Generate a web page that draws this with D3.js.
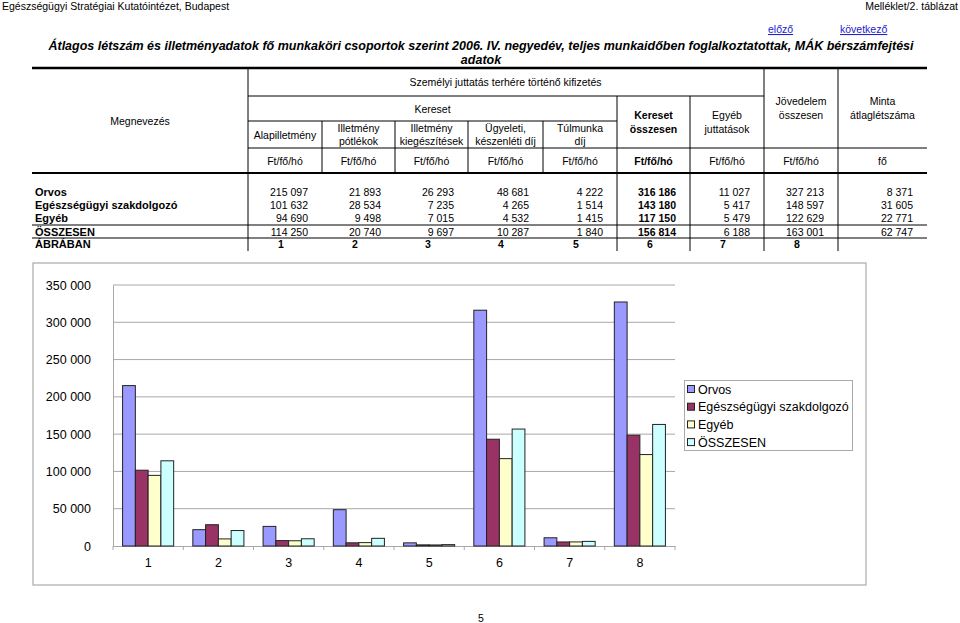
<!DOCTYPE html>
<html><head><meta charset="utf-8">
<script src="https://cdn.jsdelivr.net/npm/d3@7"></script>
<style>
body{margin:0;background:#fff;}
svg text{font-family:Arial,"Liberation Sans",sans-serif;}
</style></head>
<body><svg id="c" width="960" height="623"></svg>
<script>
// ---- data ----
const categories = ["1","2","3","4","5","6","7","8"];
const seriesNames = ["Orvos","Egészségügyi szakdolgozó","Egyéb","ÖSSZESEN"];
const orvos       = [215097, 21893, 26293, 48681, 4222, 316186, 11027, 327213];
const szakdolgozo = [101632, 28534,  7235,  4265, 1514, 143180,  5417, 148597];
const egyeb       = [ 94690,  9498,  7015,  4532, 1415, 117150,  5479, 122629];
const osszesen    = [114250, 20740,  9697, 10287, 1840, 156814,  6188, 163001];
const letszam     = [8371, 31605, 22771, 62747];
const yTicks = [0, 50000, 100000, 150000, 200000, 250000, 300000, 350000];
const colHeaders = ["Alapilletmény","Illetmény|pótlékok","Illetmény|kiegészítések","Ügyeleti,|készenléti díj","Túlmunka|díj","Kereset|összesen","Egyéb|juttatások","Jövedelem|összesen","Minta|átlaglétszáma"];
const units = ["Ft/fő/hó","Ft/fő/hó","Ft/fő/hó","Ft/fő/hó","Ft/fő/hó","Ft/fő/hó","Ft/fő/hó","Ft/fő/hó","fő"];
const colors = ["#9999FF","#993366","#FFFFCC","#CCFFFF"];

const seriesData = [orvos, szakdolgozo, egyeb, osszesen];
const loc = d3.formatLocale({decimal:",", thousands:"\u00a0", grouping:[3], currency:["",""]});
const fmt = loc.format(",d");

const svg = d3.select("#c");
svg.append("rect").attr("width",960).attr("height",623).attr("fill","#fff");

// ---- page header ----
svg.append("text").attr("x",2).attr("y",10).attr("font-size",10.5).text("Egészségügyi Stratégiai Kutatóintézet, Budapest");
svg.append("text").attr("x",958).attr("y",10).attr("text-anchor","end").attr("font-size",10.5).text("Melléklet/2. táblázat");
svg.append("text").attr("x",768).attr("y",33).attr("font-size",10.5).attr("fill","#2222cc").attr("text-decoration","underline").text("előző");
svg.append("text").attr("x",840).attr("y",33).attr("font-size",10.5).attr("fill","#2222cc").attr("text-decoration","underline").text("következő");
svg.append("text").attr("x",481).attr("y",50).attr("text-anchor","middle").attr("font-size",12.5).attr("font-weight","bold").attr("font-style","italic")
  .text("Átlagos létszám és illetményadatok fő munkaköri csoportok szerint 2006. IV. negyedév, teljes munkaidőben foglalkoztatottak, MÁK bérszámfejtési");
svg.append("text").attr("x",481).attr("y",64).attr("text-anchor","middle").attr("font-size",12.5).attr("font-weight","bold").attr("font-style","italic").text("adatok");

// ---- table ----
const T = svg.append("g");
const colX = [248,322,395,468,543,617,690,764,838,927];
function hl(x1,x2,y,w){T.append("line").attr("x1",x1).attr("x2",x2).attr("y1",y).attr("y2",y).attr("stroke","#000").attr("stroke-width",w||1);}
function vl(x,y1,y2){T.append("line").attr("x1",x).attr("x2",x).attr("y1",y1).attr("y2",y2).attr("stroke","#000").attr("stroke-width",1);}
hl(32,927,68,2.5);
hl(248,764,96);
hl(248,617,121);
hl(248,927,148);
hl(32,927,173,2);
hl(32,927,225);
hl(32,927,238);
vl(248,68,251);
[322,395,468,543].forEach(x=>vl(x,121,173));
vl(617,96,251); vl(690,96,251); vl(764,68,251); vl(838,68,251);

function ctext(x,y,str,opts){
  const lines = str.split("|");
  const lh = 13.5;
  const t = T.append("text").attr("x",x).attr("text-anchor","middle").attr("font-size",10.5);
  if(opts&&opts.bold) t.attr("font-weight","bold");
  lines.forEach((l,i)=>{
    t.append("tspan").attr("x",x).attr("y", y + 4 + (i-(lines.length-1)/2)*lh).text(l);
  });
}
ctext(140,120.5,"Megnevezés");
ctext(505.5,82,"Személyi juttatás terhére történő kifizetés");
ctext(432.5,108.5,"Kereset");
for(let i=0;i<5;i++) ctext((colX[i]+colX[i+1])/2,134.5,colHeaders[i]);
ctext((colX[5]+colX[6])/2,122,colHeaders[5],{bold:true});
ctext((colX[6]+colX[7])/2,122,colHeaders[6]);
ctext((colX[7]+colX[8])/2,108,colHeaders[7]);
ctext((colX[8]+colX[9])/2,108,colHeaders[8]);
units.forEach((u,i)=>ctext((colX[i]+colX[i+1])/2,160.5,u,{bold:i===5}));

// data rows
const rowY = [192,205,218,231.5];
seriesNames.forEach((name,r)=>{
  T.append("text").attr("x",35).attr("y",rowY[r]+4).attr("font-size",11).attr("font-weight","bold").text(name);
  const vals = seriesData[r].concat([letszam[r]]);
  vals.forEach((v,c)=>{
    T.append("text").attr("x",colX[c+1]-14).attr("y",rowY[r]+4).attr("text-anchor","end")
      .attr("font-size",10.5).attr("font-weight", c===5?"bold":"normal").text(fmt(v));
  });
});
T.append("text").attr("x",35).attr("y",248).attr("font-size",11).attr("font-weight","bold").text("ÁBRÁBAN");
categories.forEach((c,i)=>{
  T.append("text").attr("x",colX[i]+30).attr("y",248).attr("font-size",10.5).attr("font-weight","bold").text(c);
});

// ---- chart ----
svg.append("rect").attr("x",33).attr("y",263).attr("width",833).attr("height",322).attr("fill","#fff").attr("stroke","#aaa").attr("stroke-width",1.2);
const plot = {l:113, r:675, t:285, b:546};
const y = d3.scaleLinear().domain([0,350000]).range([plot.b, plot.t]);
const x0 = d3.scaleBand().domain(categories).range([plot.l, plot.r]).paddingInner(1.5/5.5).paddingOuter(0.75/5.5);
const x1 = d3.scaleBand().domain(seriesNames).range([0, x0.bandwidth()]).padding(0);
const C = svg.append("g");

// gridlines
C.append("g").selectAll("line").data(yTicks.filter(d=>d>0)).join("line")
  .attr("x1",plot.l).attr("x2",plot.r).attr("y1",d=>y(d)).attr("y2",d=>y(d)).attr("stroke","#a8a8a8").attr("stroke-width",1);

// y axis
const yAx = C.append("g").attr("transform",`translate(${plot.l},0)`)
  .call(d3.axisLeft(y).tickValues(yTicks).tickFormat(d=>fmt(d)).tickSize(0).tickPadding(22));
yAx.select(".domain").attr("stroke","#a8a8a8");
yAx.selectAll("text").attr("font-size",12.5).attr("fill","#000").attr("font-family","Arial,'Liberation Sans',sans-serif");

// x axis
const step = x0.step();
const xAx = C.append("g").attr("transform",`translate(0,${plot.b})`)
  .call(d3.axisBottom(x0).tickSize(0).tickPadding(12));
xAx.select(".domain").attr("stroke","#a8a8a8");
xAx.selectAll("text").attr("font-size",12.5).attr("fill","#000").attr("font-family","Arial,'Liberation Sans',sans-serif");
C.append("g").selectAll("line").data(d3.range(categories.length+1)).join("line")
  .attr("x1",i=>plot.l+i*step).attr("x2",i=>plot.l+i*step).attr("y1",plot.b).attr("y2",plot.b+4).attr("stroke","#a8a8a8");

// bars
categories.forEach((cat,ci)=>{
  const g = C.append("g").attr("transform",`translate(${x0(cat)},0)`);
  seriesNames.forEach((s,si)=>{
    const v = seriesData[si][ci];
    g.append("rect").attr("x",x1(s)).attr("y",y(v)).attr("width",x1.bandwidth()).attr("height",plot.b-y(v))
      .attr("fill",colors[si]).attr("stroke","#222").attr("stroke-width",1);
  });
});

// legend
const L = svg.append("g");
L.append("rect").attr("x",684.5).attr("y",380.5).attr("width",168).attr("height",70).attr("fill","#fff").attr("stroke","#aaa");
seriesNames.forEach((s,i)=>{
  const yy = 389 + i*17.7;
  L.append("rect").attr("x",687.5).attr("y",yy-3.5).attr("width",7).attr("height",7).attr("fill",colors[i]).attr("stroke","#222");
  L.append("text").attr("x",698).attr("y",yy+4.5).attr("font-size",12.5).text(s);
});

// page number
svg.append("text").attr("x",481).attr("y",622).attr("text-anchor","middle").attr("font-size",10.5).text("5");
</script></body></html>
